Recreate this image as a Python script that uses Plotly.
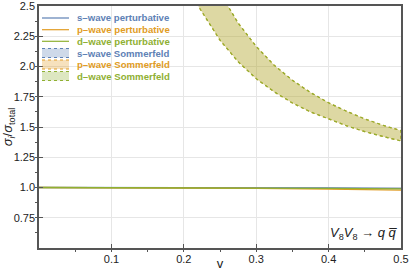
import plotly.graph_objects as go

# ---- data ----
v_pert = [0.0, 0.1, 0.2, 0.3, 0.4, 0.5]
s_pert = [1.0, 1.0, 0.999, 0.998, 0.996, 0.993]
p_pert = [1.0, 0.999, 0.997, 0.993, 0.987, 0.978]
d_pert = [1.0, 0.9995, 0.998, 0.996, 0.993, 0.988]

v_upper = [0.25, 0.258, 0.275, 0.3, 0.325, 0.35, 0.375, 0.4, 0.425, 0.45, 0.475, 0.5]
upper = [2.61, 2.53, 2.36, 2.166, 2.01, 1.887, 1.785, 1.70, 1.63, 1.567, 1.515, 1.47]
v_lower = [0.21, 0.221, 0.25, 0.275, 0.3, 0.325, 0.35, 0.375, 0.4, 0.425, 0.45, 0.475, 0.5]
lower = [2.62, 2.49, 2.218, 2.04, 1.90, 1.79, 1.699, 1.625, 1.565, 1.51, 1.462, 1.422, 1.385]

y_tickvals = [0.75, 1.0, 1.25, 1.5, 1.75, 2.0, 2.25, 2.5]
y_ticktext = ["0.75", "1.0", "1.25", "1.5", "1.75", "2.0", "2.25", "2.5"]
x_tickvals = [0.1, 0.2, 0.3, 0.4, 0.5]
x_ticktext = ["0.1", "0.2", "0.3", "0.4", "0.5"]

legend_names = ["s\u2013wave perturbative", "p\u2013wave perturbative", "d\u2013wave perturbative",
                "s\u2013wave Sommerfeld", "p\u2013wave Sommerfeld", "d\u2013wave Sommerfeld"]

BLUE = "#5E81B5"
ORANGE = "#E19C24"
GREEN = "#8FB032"
FILLS = {BLUE: "rgba(94,129,181,0.3)", ORANGE: "rgba(225,156,36,0.3)", GREEN: "rgba(143,176,50,0.3)"}
legend_colors = [BLUE, ORANGE, GREEN, BLUE, ORANGE, GREEN]
FONT = "Liberation Sans"

W, H = 411, 271
ML, MR, MT, MB = 39, 10, 6, 23
PW, PH = W - ML - MR, H - MT - MB
X0, X1 = 0.0, 0.5
Y0, Y1 = 0.5, 2.5005

def px(x):
    # pixel column -> plot-area (domain) fraction
    return (x - ML) / PW

def py(y):
    # pixel row -> plot-area (domain) fraction
    return (H - MB - y) / PH

fig = go.Figure()

def band(color, rgba):
    xs = v_upper + v_lower[::-1]
    ys = upper + lower[::-1]
    fig.add_trace(go.Scatter(
        x=xs, y=ys, mode="lines", fill="toself", fillcolor=rgba,
        line=dict(color=color, width=1.2, dash="dot"),
        showlegend=False, hoverinfo="skip"))

band(ORANGE, "rgba(225,156,36,0.25)")
band(GREEN, "rgba(143,176,50,0.25)")

for ys, col in [(s_pert, BLUE), (p_pert, ORANGE), (d_pert, GREEN)]:
    fig.add_trace(go.Scatter(x=v_pert, y=ys, mode="lines",
                             line=dict(color=col, width=1.3), showlegend=False))

# manual legend (layout decoration, placed in plot-area fractions)
row_y = [18, 29.7, 41.3, 53, 64.5, 76]
LX0, LX1, TX = 42, 69, 75.5
for i, (name, col) in enumerate(zip(legend_names, legend_colors)):
    yc = row_y[i]
    if i < 3:
        fig.add_shape(type="line", xref="x domain", yref="y domain",
                      x0=px(LX0), x1=px(LX1), y0=py(yc), y1=py(yc),
                      line=dict(color=col, width=1.2))
    else:
        fig.add_shape(type="rect", xref="x domain", yref="y domain",
                      x0=px(LX0), x1=px(LX1), y0=py(yc + 4.5), y1=py(yc - 4.5),
                      fillcolor=FILLS[col], line=dict(width=0))
        for yy in (yc - 4.5, yc + 4.5):
            fig.add_shape(type="line", xref="x domain", yref="y domain",
                          x0=px(LX0), x1=px(LX1), y0=py(yy), y1=py(yy),
                          line=dict(color=col, width=1, dash="dot"))
    fig.add_annotation(xref="x domain", yref="y domain", x=px(TX), y=py(yc),
                       xanchor="left", yanchor="middle", showarrow=False,
                       borderpad=0,
                       text="<b>" + name + "</b>",
                       font=dict(family=FONT, size=9.6, color=col))

axis_common = dict(
    showline=True, linecolor="#555555", linewidth=1.5, mirror=True,
    ticks="inside", ticklen=4, tickcolor="#555555", tickwidth=1,
    showgrid=True, gridcolor="#E6E6E6", gridwidth=1, zeroline=False,
    automargin=False, ticklabeloverflow="allow",
    tickfont=dict(family=FONT, size=11, color="#222222"),
)

fig.update_layout(
    width=W, height=H,
    margin=dict(l=ML, r=MR, t=MT, b=MB),
    paper_bgcolor="white", plot_bgcolor="white",
    font=dict(family=FONT, size=11, color="#222222"),
    xaxis=dict(range=[X0, X1], tickmode="array", tickvals=x_tickvals, ticktext=x_ticktext,
               minor=dict(tickmode="linear", tick0=0, dtick=0.05, ticklen=2,
                          tickcolor="#555555", showgrid=False),
               title=dict(text="v", standoff=0, font=dict(family=FONT, size=13)),
               **axis_common),
    yaxis=dict(range=[Y0, Y1], tickmode="array", tickvals=y_tickvals, ticktext=y_ticktext,
               minor=dict(tickmode="linear", tick0=0.5, dtick=0.125, ticklen=2,
                          tickcolor="#555555", showgrid=False),
               title=dict(text="<i>σ</i><sub><i>i</i></sub>/<i>σ</i><sub>total</sub>",
                          standoff=2, font=dict(family=FONT, size=13)),
               **axis_common),
    showlegend=False,
)

fig.add_annotation(
    x=0.497, y=0.53, xref="x", yref="y", xanchor="right", yanchor="bottom",
    text="<i>V</i><sub>8</sub><i>V</i><sub>8</sub> → <i>q</i> <i>q\u0305</i>",
    showarrow=False, font=dict(family=FONT, size=13, color="#222222"))

fig.write_html("out.html", config={"displayModeBar": False},
               post_script="document.body.style.margin='0';")
